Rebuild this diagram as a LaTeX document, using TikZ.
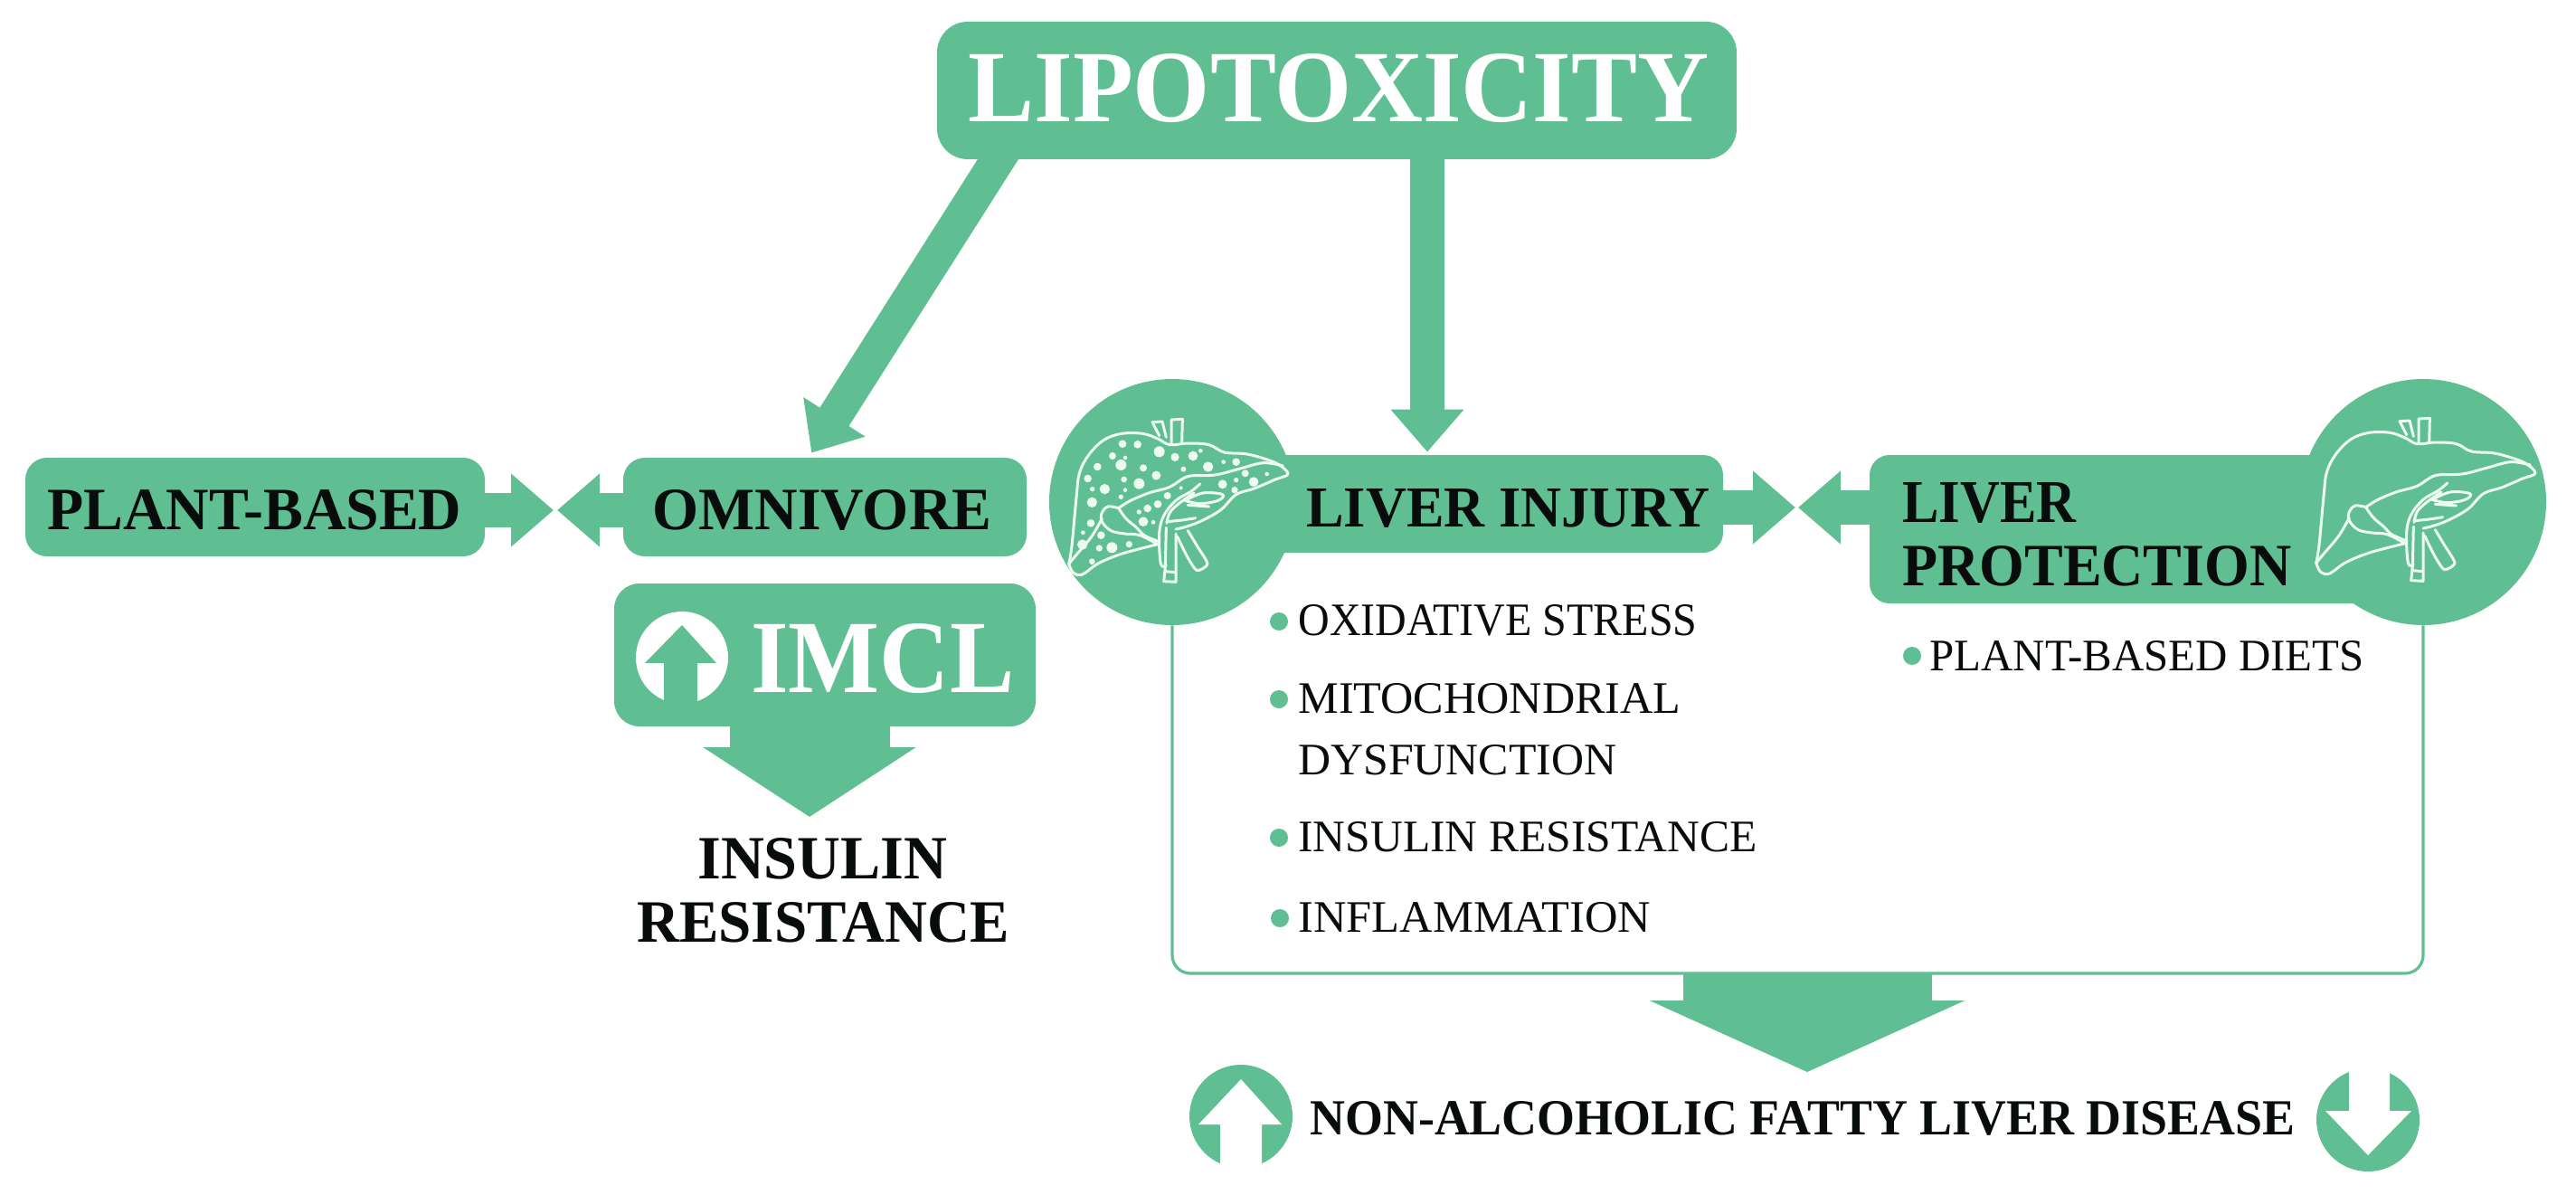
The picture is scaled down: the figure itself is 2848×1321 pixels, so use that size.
\documentclass[tikz,border=0pt]{standalone}
\usepackage{fontspec}
\usepackage{graphicx}
\setmainfont{Liberation Serif}
\usetikzlibrary{arrows.meta,calc}
\definecolor{leaf}{RGB}{95,191,146}
\definecolor{ink}{RGB}{8,12,10}
\definecolor{veil}{RGB}{236,250,242}
\newdimen\pxu \pxu=0.5pt
\newcommand{\fitt}[3]{\resizebox{#1\pxu}{#2\pxu}{#3}}
\newcommand{\liverline}{%
  \draw[liverstroke] plot[smooth,tension=.6] coordinates {(35,520)(45,460)(60,300)(70,220)(100,160)(150,110)(210,88)(280,88)(330,105)(370,125)(430,120)(500,125)(550,150)(620,155)(680,170)(730,190)(762,222)(720,240)(650,270)(590,290)(540,340)(480,375)(430,395)(390,405)};
  \draw[liverstroke] plot[smooth,tension=.6] coordinates {(330,455)(270,470)(200,490)(130,520)(80,555)(50,550)(35,520)};
  \draw[liverstroke] plot[smooth,tension=.6] coordinates {(745,195)(680,185)(600,205)(520,225)(430,230)(370,265)(300,285)(240,310)(200,335)};
  \draw[liverstroke] plot[smooth,tension=.6] coordinates {(200,335)(165,330)(145,350)(145,380)(175,410)(220,420)(270,425)(330,455)};
  \draw[liverstroke] plot[smooth,tension=.6] coordinates {(200,335)(225,370)(260,400)(285,425)(330,445)};
  \draw[liverstroke] plot[smooth,tension=.6] coordinates {(145,370)(110,430)(60,490)(35,520)};
  \draw[liverstroke] (375,118)--(375,42)--(412,40)--(410,120);
  \draw[liverstroke] (358,100)--(345,48)--(312,50)--(335,95);
  \draw[liverstroke] plot[smooth,tension=.6] coordinates {(470,255)(440,280)(390,310)(350,360)(335,420)(340,520)(358,525)};
  \draw[liverstroke] plot[smooth,tension=.6] coordinates {(450,285)(400,320)(370,350)(360,385)};
  \draw[liverstroke] (358,400)--(355,530)--(350,578)--(390,580)--(390,420);
  \draw[liverstroke] (355,545)--(390,548);
  \draw[liverstroke] plot[smooth,tension=.4] coordinates {(395,430)(430,500)(460,542)(495,520)(460,460)(430,410)};
  \draw[liverstroke] plot[smooth,tension=.6] coordinates {(420,310)(480,285)(545,290)(530,310)(470,320)(420,310)};
  \draw[liverstroke] (430,325)--(500,330);
  \draw[liverstroke] plot[smooth,tension=.6] coordinates {(360,380)(410,375)(455,368)};
}
\tikzset{
  px/.style={x=0.5pt,y=-0.5pt},
  greenbox/.style={fill=leaf,draw=none,rounded corners=#1,inner sep=0pt},
  disc/.style={circle,fill=leaf,draw=none,inner sep=0pt,minimum size=136pt},
  txt/.style={anchor=base west,inner sep=0pt,text=ink},
  wtxt/.style={anchor=base west,inner sep=0pt,text=white},
  bullet/.style={circle,fill=leaf,draw=none,inner sep=0pt,minimum size=10pt},
  smallarrow/.style={draw=leaf,line width=19pt,-{Triangle[length=23.5pt,width=39pt,fill=leaf]}},
  imclarrow/.style={draw=leaf,line width=88.5pt,-{Triangle[length=38.5pt,width=116pt,fill=leaf]}},
  bigarrow/.style={draw=leaf,line width=137.5pt,-{Triangle[length=39.5pt,width=173pt,fill=leaf]}},
  panel/.style={draw=leaf,line width=1.6pt,rounded corners=10pt},
  liverstroke/.style={draw=veil,line width=1.5pt,line join=round,line cap=round},
  fleck/.style={fill=veil,draw=none},
}
\begin{document}
\begin{tikzpicture}[px]
\useasboundingbox (0,0) rectangle (2848,1321);
% boxes
\node[greenbox=17pt,minimum width=442pt,minimum height=76pt] (lipo) at (1478,100) {};
\node[greenbox=12pt,minimum width=254pt,minimum height=54.5pt] (plant) at (282,560.5) {};
\node[greenbox=12pt,minimum width=223pt,minimum height=54.5pt] (omni) at (912,560.5) {};
\node[greenbox=14pt,minimum width=233pt,minimum height=79pt] (imcl) at (912,724) {};
\node[greenbox=11pt,minimum width=302.5pt,minimum height=54pt] (injbar) at (1602.5,557) {};
\node[greenbox=11pt,minimum width=306pt,minimum height=82pt] (protbar) at (2373,585) {};
\node[disc] (injcirc) at (1296,555) {};
\node[disc] (protcirc) at (2679,555) {};
% panel
\coordinate (panelbase) at (0,1076);
\draw[panel] (injcirc.south) -- (injcirc.south |- panelbase) -- (protcirc.south |- panelbase) -- (protcirc.south);
% connectors
\coordinate (lipoA) at (1120,150);
\draw[smallarrow,shorten >=3pt] (lipoA) -- ([xshift=-9pt]omni.north);
\draw[smallarrow,shorten >=1.5pt] ([xshift=50pt,yshift=10pt]lipo.south) -- ([xshift=50pt]lipo.south |- injbar.north);
\coordinate (dietL) at (612,564);
\coordinate (dietR) at (616,564);
\draw[smallarrow] (plant.east |- dietL) -- (dietL);
\draw[smallarrow] (omni.west |- dietR) -- (dietR);
\coordinate (liverL) at (1985,561);
\coordinate (liverR) at (1988,561);
\draw[smallarrow] (injbar.east |- liverL) -- (liverL);
\draw[smallarrow] (protbar.west |- liverR) -- (liverR);
\coordinate (imclTip) at (895,903);
\draw[imclarrow] (imclTip |- imcl.south) -- (imclTip);
\coordinate (nafldTip) at (1998,1185);
\draw[bigarrow] (nafldTip |- panelbase) -- (nafldTip);
% IMCL icon
\fill[white] (754,727) circle (51);
\fill[leaf] (754,691) -- (792,733) -- (771,733) -- (771,785) -- (734,785) -- (734,733) -- (713,733) -- cycle;
% NAFLD icons
\fill[leaf] (1372,1234) circle (57);
\fill[white] (1372,1193) -- (1417,1243) -- (1395,1243) -- (1395,1295) -- (1349,1295) -- (1349,1243) -- (1325,1243) -- cycle;
\fill[leaf] (2618,1238) circle (57);
\fill[white] (2618,1277) -- (2666,1228) -- (2642,1228) -- (2642,1176) -- (2597,1176) -- (2597,1228) -- (2571,1228) -- cycle;
% livers
\begin{scope}[shift={(1170,450)},scale=0.33333]
\liverline
\foreach \a/\b/\r in {213/122/13,263/124/13,335/148/18,387/166/14,447/162/16,472/145/7,180/162/12,222/168/7,208/192/18,282/202/12,130/198/13,98/237/13,218/240/10,268/254/18,325/227/15,113/272/8,154/272/17,222/275/7,208/298/8,112/316/17,497/198/17,548/182/7,590/182/13,620/220/12,415/206/9,590/242/8,545/256/15,648/248/16,692/222/7,585/275/11,407/268/6,362/294/12,330/322/13,296/336/13,268/348/8,282/380/16,315/382/7,108/385/13,82/416/7,142/425/13,80/456/17,136/468/11,178/466/18,235/455/11,112/512/10}
  {\fill[fleck] (\a,\b) circle (\r);}
\end{scope}
\begin{scope}[shift={(2549,449)},scale=0.33333]
\liverline
\end{scope}
% texts
\node[wtxt] (tLipo) at (1070,135) {\fitt{819}{75}{\bfseries LIPOTOXICITY}};
\node[wtxt] (tImcl) at (830,765) {\fitt{291}{76}{\bfseries IMCL}};
\node[txt] (tPlant) at (52,585) {\fitt{458}{44}{\bfseries PLANT-BASED}};
\node[txt] (tOmni) at (721,585) {\fitt{375}{44}{\bfseries OMNIVORE}};
\node[txt] (tIns) at (771,971) {\fitt{276}{45}{\bfseries INSULIN}};
\node[txt] (tRes) at (704,1041) {\fitt{411}{44}{\bfseries RESISTANCE}};
\node[txt] (tInj) at (1444,582) {\fitt{446}{42}{\bfseries LIVER INJURY}};
\node[txt] (tLiv) at (2103,577) {\fitt{192}{44}{\bfseries LIVER}};
\node[txt] (tPro) at (2103,647) {\fitt{430}{44}{\bfseries PROTECTION}};
\node[txt] (tOx) at (1435,702) {\fitt{441}{34}{OXIDATIVE STRESS}};
\node[txt] (tMit) at (1435,788) {\fitt{423}{33}{MITOCHONDRIAL}};
\node[txt] (tDys) at (1435,856) {\fitt{352}{33}{DYSFUNCTION}};
\node[txt] (tIR) at (1435,941) {\fitt{507}{33}{INSULIN RESISTANCE}};
\node[txt] (tInf) at (1435,1030) {\fitt{390}{33}{INFLAMMATION}};
\node[txt] (tDiet) at (2133,741) {\fitt{480}{33}{PLANT-BASED DIETS}};
\node[txt] (tNaf) at (1448,1254) {\fitt{1089}{37}{\bfseries NON-ALCOHOLIC FATTY LIVER DISEASE}};
% bullets
\node[bullet] (b1) at (1414,687) {};
\node[bullet] (b2) at (1414,773) {};
\node[bullet] (b3) at (1414,926) {};
\node[bullet] (b4) at (1415,1015) {};
\node[bullet] (b5) at (2114,725) {};
\end{tikzpicture}
\end{document}
